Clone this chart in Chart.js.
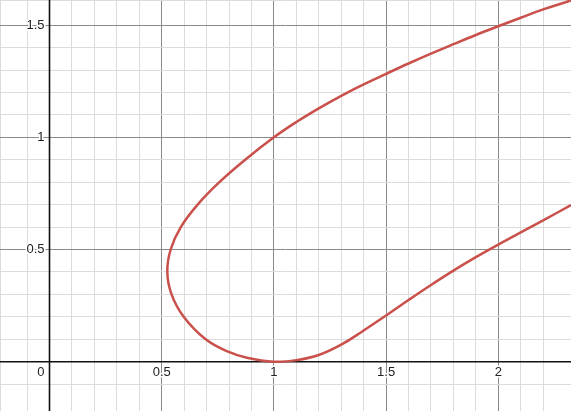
<!DOCTYPE html>
<html>
<head>
<meta charset="utf-8">
<script src="https://cdn.jsdelivr.net/npm/chart.js@4"></script>
<style>
html,body{margin:0;padding:0;background:#fff;}
#wrap{width:571px;height:411px;position:relative;}
</style>
</head>
<body>
<div id="wrap"><canvas id="c"></canvas></div>
<script>
// Curve points (traced from upper-right, around the loop, to lower-right)
const curveX = [2.324, 2.2, 2.1, 2.0, 1.9, 1.8, 1.7, 1.6, 1.5, 1.4, 1.3, 1.2, 1.1, 1.0, 0.872, 0.757, 0.660, 0.585, 0.540, 0.525, 0.544, 0.598, 0.693, 0.790, 0.880, 1.0, 1.1, 1.2, 1.3, 1.4, 1.5, 1.6, 1.7, 1.8, 1.9, 2.0, 2.1, 2.2, 2.324];
const curveY = [1.610, 1.570, 1.533, 1.495, 1.456, 1.415, 1.373, 1.329, 1.283, 1.236, 1.185, 1.129, 1.068, 1.000, 0.900, 0.800, 0.700, 0.600, 0.500, 0.400, 0.300, 0.200, 0.102, 0.047, 0.018, 0.000, 0.007, 0.030, 0.076, 0.139, 0.206, 0.275, 0.342, 0.406, 0.466, 0.522, 0.576, 0.630, 0.698];
const xTickLabels = ["0.5", "1", "1.5", "2"];
const xTickValues = [0.5, 1, 1.5, 2];
const yTickLabels = ["0.5", "1", "1.5"];
const yTickValues = [0.5, 1, 1.5];

const points = curveX.map((x, i) => ({x: x, y: curveY[i]}));

function gridColor(ctx) {
  const v = Math.round(ctx.tick.value * 10);
  if (v === 0) return 'rgba(0,0,0,0)';
  return (v % 5 === 0) ? '#8a8a8a' : '#dcdcdc';
}

const overlay = {
  id: 'overlay',
  beforeDatasetsDraw(chart) {
    const c = chart.ctx, xs = chart.scales.x, ys = chart.scales.y;
    const x0 = xs.getPixelForValue(0), y0 = ys.getPixelForValue(0);
    c.save();
    c.strokeStyle = '#111';
    c.lineWidth = 1.6;
    c.beginPath();
    c.moveTo(chart.chartArea.left, y0); c.lineTo(chart.chartArea.right, y0);
    c.moveTo(x0, chart.chartArea.top); c.lineTo(x0, chart.chartArea.bottom);
    c.stroke();
    c.restore();
  },
  afterDatasetsDraw(chart) {
    const c = chart.ctx, xs = chart.scales.x, ys = chart.scales.y;
    const x0 = xs.getPixelForValue(0), y0 = ys.getPixelForValue(0);
    c.save();
    c.font = '13px "Liberation Sans", Arial, sans-serif';
    c.fillStyle = '#222';
    c.strokeStyle = '#fff';
    c.lineWidth = 3;
    c.lineJoin = 'round';
    c.textBaseline = 'middle';
    c.textAlign = 'center';
    xTickValues.forEach((v, i) => {
      const px = xs.getPixelForValue(v);
      c.strokeText(xTickLabels[i], px, y0 + 11);
      c.fillText(xTickLabels[i], px, y0 + 11);
    });
    c.textAlign = 'right';
    yTickValues.forEach((v, i) => {
      const py = ys.getPixelForValue(v);
      c.strokeText(yTickLabels[i], x0 - 5, py);
      c.fillText(yTickLabels[i], x0 - 5, py);
    });
    c.strokeText('0', x0 - 5, y0 + 11);
    c.fillText('0', x0 - 5, y0 + 11);
    c.restore();
  }
};

new Chart(document.getElementById('c'), {
  type: 'scatter',
  data: {
    datasets: [{
      data: points,
      showLine: true,
      borderColor: '#c9504b',
      borderWidth: 2.5,
      pointRadius: 0,
      tension: 0.4,
      fill: false
    }]
  },
  options: {
    responsive: true,
    maintainAspectRatio: false,
    animation: false,
    layout: {padding: 0},
    plugins: {legend: {display: false}, tooltip: {enabled: false}},
    scales: {
      x: {
        type: 'linear', min: -0.2206, max: 2.324,
        ticks: {display: false, stepSize: 0.1},
        border: {display: false},
        grid: {drawTicks: false, color: gridColor, lineWidth: 1}
      },
      y: {
        type: 'linear', min: -0.2197, max: 1.612,
        ticks: {display: false, stepSize: 0.1},
        border: {display: false},
        grid: {drawTicks: false, color: gridColor, lineWidth: 1}
      }
    }
  },
  plugins: [overlay]
});
</script>
</body>
</html>
